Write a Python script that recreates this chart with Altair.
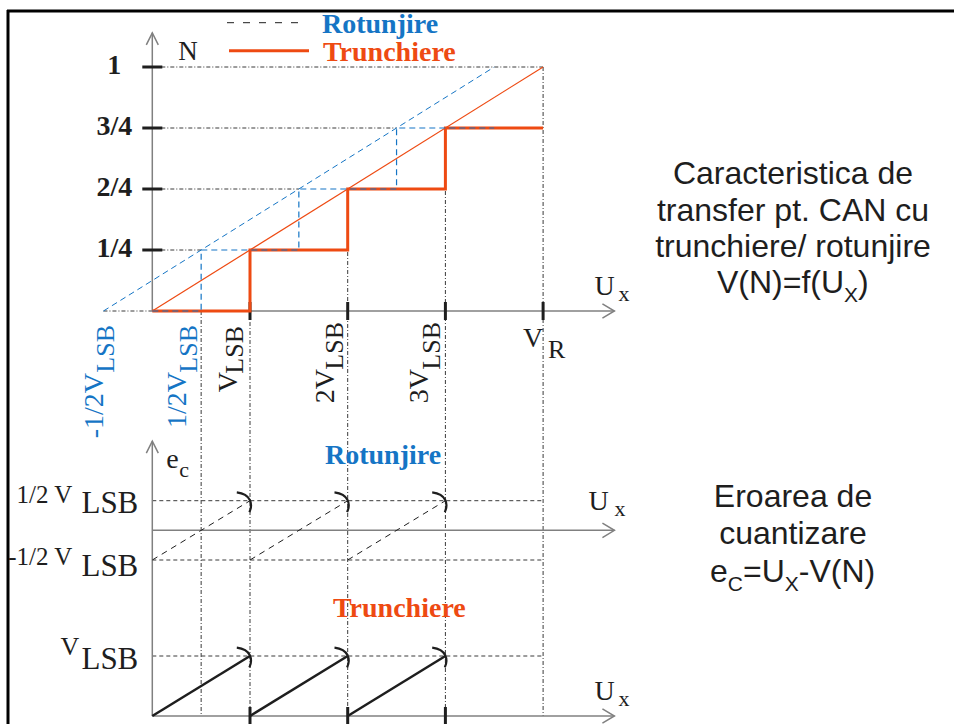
import altair as alt
import pandas as pd

# ------------------------------------------------------------------ data
X_TICKS = [1, 2, 3, 4]                      # V_LSB, 2V_LSB, 3V_LSB, V_R
N_LEVELS = [0.25, 0.5, 0.75, 1.0]
N_LABELS = ["1/4", "2/4", "3/4", "1"]

TR_X = [0, 1, 1, 2, 2, 3, 3, 4]             # truncation staircase
TR_N = [0, 0, 0.25, 0.25, 0.5, 0.5, 0.75, 0.75]
RO_X = [0, 0.5, 0.5, 1.5, 1.5, 2.5, 2.5, 3.5]   # rounding staircase
RO_N = [0, 0, 0.25, 0.25, 0.5, 0.5, 0.75, 0.75]
TR_LINE_X = [0, 4]
TR_LINE_N = [0, 1]
RO_LINE_X = [-0.5, 3.5]
RO_LINE_N = [0, 1]

HG_N = [1.0, 0.75, 0.5, 0.25, 0.0]          # dotted horizontal guides
HG_X1 = [0, 0, 0, 0, -0.5]
HG_X2 = [4, 2.5, 1.5, 0.5, 0]
VG_X = [0.5, 1, 2, 3, 4]                     # dotted vertical guides
VG_N = [0, 0.25, 0.5, 0.75, 1.0]

SAW_X1 = [0, 1, 2]                           # quantisation error teeth
SAW_X2 = [1, 2, 3]
ROT_LEVELS = [0.5, -0.5]
TR_LEVELS = [1]
TR_TICKS = [1, 2, 3]
GUIDE_END = 4

X_AXIS_END = 4.73
N_AXIS_END = 1.14
E_AXIS_END = 4.58

XLAB_MAIN = ["-1/2V", "1/2V", "V", "2V", "3V"]
XLAB_SUB = ["LSB", "LSB", "LSB", "LSB", "LSB"]
XLAB_AT = [-0.5, 0.5, 1, 2, 3]

# ------------------------------------------------------------------ layout / style
W, H = 954, 724
ORANGE = "#ee4a12"
BLUE = "#1575c5"
AXIS = "#808080"
INK = "#1e1e1e"
GUIDE = "#3a3a3a"
SERIF = "Liberation Serif"
SANS = "Liberation Sans"

XS = alt.Scale(domain=[0, 4], range=[152.3, 543.1], zero=False, nice=False)
YN_PX = [311, 67]
YT_PX = [716, 656]
YN = alt.Scale(domain=[0, 1], range=YN_PX, zero=False, nice=False)
YR = alt.Scale(domain=[-0.5, 0.5], range=[560, 500.7], zero=False, nice=False)
YT = alt.Scale(domain=[0, 1], range=YT_PX, zero=False, nice=False)
N_AT_BOTTOM = (YN_PX[0] - YT_PX[0]) / (YN_PX[0] - YN_PX[1])

UP_ARROW = "M-0.5,1L0,0L0.5,1"
RIGHT_ARROW = "M-1,-0.6L0,0L-1,0.6"
ARC = "M-1.1,-0.7C0.1,-0.55 0.25,0.3 -0.05,0.95"

layers = []


def X(f="x"):
    return alt.X(f"{f}:Q", scale=XS, axis=None)


def Y(scale, f="y"):
    return alt.Y(f"{f}:Q", scale=scale, axis=None)


def rules(df, yscale, color, width, dash=None):
    props = dict(color=color, strokeWidth=width)
    if dash:
        props["strokeDash"] = dash
    return alt.Chart(df).mark_rule(**props).encode(
        x=X(), x2="x2:Q", y=Y(yscale), y2="y2:Q")


def label(text, x, y, yscale, dx=0, dy=0, size=26, color=INK, font=SERIF,
          weight="normal", align="left", baseline="alphabetic", angle=0):
    props = dict(font=font, fontSize=size, color=color, align=align,
                 baseline=baseline, xOffset=dx, yOffset=dy, fontWeight=weight)
    if angle:
        props["angle"] = angle
    df = pd.DataFrame({"x": [x], "y": [y], "t": [text]})
    return alt.Chart(df).mark_text(**props).encode(x=X(), y=Y(yscale), text="t:N")


def note(text, px, py, size, color=INK, font=SANS, weight="normal", align="left"):
    df = pd.DataFrame({"t": [text]})
    return alt.Chart(df).mark_text(font=font, fontSize=size, color=color, align=align,
                                   baseline="alphabetic", fontWeight=weight).encode(
        x=alt.value(px), y=alt.value(py), text="t:N")


# ---- dotted guides
layers.append(rules(pd.DataFrame({"x": HG_X1, "x2": HG_X2, "y": HG_N, "y2": HG_N}),
                    YN, GUIDE, 1, [4, 2, 1, 2]))
layers.append(rules(pd.DataFrame({"x": VG_X, "x2": VG_X, "y": VG_N,
                                  "y2": [N_AT_BOTTOM] * len(VG_X)}),
                    YN, GUIDE, 1, [4, 2, 1, 2]))
layers.append(rules(pd.DataFrame({"x": [0] * 2, "x2": [GUIDE_END] * 2,
                                  "y": ROT_LEVELS, "y2": ROT_LEVELS}),
                    YR, GUIDE, 1, [4, 3]))
layers.append(rules(pd.DataFrame({"x": [0], "x2": [GUIDE_END],
                                  "y": TR_LEVELS, "y2": TR_LEVELS}),
                    YT, GUIDE, 1, [4, 3]))

# ---- axes
layers.append(rules(pd.DataFrame({"x": [0, 0], "x2": [0, X_AXIS_END],
                                  "y": [0, 0], "y2": [N_AXIS_END, 0]}), YN, AXIS, 1.5))
layers.append(rules(pd.DataFrame({"x": [0], "x2": [X_AXIS_END], "y": [0], "y2": [0]}),
                    YR, AXIS, 1.5))
layers.append(rules(pd.DataFrame({"x": [0, 0], "x2": [0, X_AXIS_END],
                                  "y": [0, 0], "y2": [E_AXIS_END, 0]}), YT, AXIS, 1.5))


def arrow(x, y, yscale, shape):
    df = pd.DataFrame({"x": [x], "y": [y]})
    return alt.Chart(df).mark_point(shape=shape, size=576, filled=False, color=AXIS,
                                    strokeWidth=1.5, opacity=1).encode(x=X(), y=Y(yscale))


layers.append(arrow(0, N_AXIS_END, YN, UP_ARROW))
layers.append(arrow(0, E_AXIS_END, YT, UP_ARROW))
layers.append(arrow(X_AXIS_END, 0, YN, RIGHT_ARROW))
layers.append(arrow(X_AXIS_END, 0, YR, RIGHT_ARROW))
layers.append(arrow(X_AXIS_END, 0, YT, RIGHT_ARROW))

# ---- ticks
layers.append(alt.Chart(pd.DataFrame({"x": [0] * 4, "y": N_LEVELS})).mark_tick(
    orient="horizontal", size=20, thickness=3, color=INK, opacity=1).encode(x=X(), y=Y(YN)))
layers.append(alt.Chart(pd.DataFrame({"x": X_TICKS, "y": [0] * 4})).mark_tick(
    orient="vertical", size=18, thickness=3, color=INK, opacity=1).encode(x=X(), y=Y(YN)))
layers.append(alt.Chart(pd.DataFrame({"x": TR_TICKS, "y": [0] * 3})).mark_tick(
    orient="vertical", size=18, thickness=3, color=INK, opacity=1).encode(x=X(), y=Y(YT)))

# ---- transfer characteristics
layers.append(rules(pd.DataFrame({"x": [TR_LINE_X[0]], "x2": [TR_LINE_X[1]],
                                  "y": [TR_LINE_N[0]], "y2": [TR_LINE_N[1]]}), YN, ORANGE, 1.2))
layers.append(alt.Chart(pd.DataFrame({"x": TR_X, "y": TR_N, "i": range(len(TR_X))})).mark_line(
    color=ORANGE, strokeWidth=3).encode(x=X(), y=Y(YN), order="i:Q"))
layers.append(rules(pd.DataFrame({"x": [RO_LINE_X[0]], "x2": [RO_LINE_X[1]],
                                  "y": [RO_LINE_N[0]], "y2": [RO_LINE_N[1]]}), YN, BLUE, 1, [6, 4]))
layers.append(alt.Chart(pd.DataFrame({"x": RO_X, "y": RO_N, "i": range(len(RO_X))})).mark_line(
    color=BLUE, strokeWidth=1.2, strokeDash=[6, 4]).encode(x=X(), y=Y(YN), order="i:Q"))

# ---- quantisation error
layers.append(rules(pd.DataFrame({"x": SAW_X1, "x2": SAW_X2,
                                  "y": [ROT_LEVELS[1]] * 3, "y2": [ROT_LEVELS[0]] * 3}),
                    YR, INK, 1, [6, 5]))
layers.append(rules(pd.DataFrame({"x": SAW_X1, "x2": SAW_X2,
                                  "y": [0] * 3, "y2": [TR_LEVELS[0]] * 3}), YT, INK, 2.5))
layers.append(alt.Chart(pd.DataFrame({"x": SAW_X2, "y": [ROT_LEVELS[0]] * 3})).mark_point(
    shape=ARC, size=576, filled=False, color=INK, strokeWidth=2.2, opacity=1).encode(x=X(), y=Y(YR)))
layers.append(alt.Chart(pd.DataFrame({"x": SAW_X2, "y": [TR_LEVELS[0]] * 3})).mark_point(
    shape=ARC, size=576, filled=False, color=INK, strokeWidth=2.2, opacity=1).encode(x=X(), y=Y(YT)))

# ---- top panel labels
layers.append(alt.Chart(pd.DataFrame({"x": [0] * 4, "y": N_LEVELS, "t": N_LABELS})).mark_text(
    font=SERIF, fontSize=28, fontWeight="bold", color=INK, align="center",
    baseline="middle", xOffset=-38, yOffset=-1).encode(x=X(), y=Y(YN), text="t:N"))
layers.append(label("N", 0, N_AXIS_END, YN, dx=26, dy=27, size=27))

XLAB_COLOR = [BLUE, BLUE, INK, INK, INK]
XLAB_MAIN_OFF = [(-0.5, 62), (-15, 61), (-13, 61), (-14, 58), (-17, 58)]
XLAB_SUB_OFF = [(10.5, 14), (-4, 14), (-7, 15), (-4.5, 11), (-5.5, 11)]
for m, s, at, c, mo, so in zip(XLAB_MAIN, XLAB_SUB, XLAB_AT, XLAB_COLOR,
                              XLAB_MAIN_OFF, XLAB_SUB_OFF):
    layers.append(label(m, at, 0, YN, dx=mo[0], dy=mo[1], size=28, color=c,
                        align="right", angle=270))
    layers.append(label(s, at, 0, YN, dx=so[0], dy=so[1], size=26, color=c,
                        align="right", angle=270))

layers.append(label("V", X_TICKS[-1], 0, YN, dx=-20, dy=36, size=28))
layers.append(label("R", X_TICKS[-1], 0, YN, dx=5, dy=47, size=26))

for ysc, uo, xo in [(YN, (-20, -16), (4, -10)), (YR, (-26, -20), (0, -14)),
                    (YT, (-20, -16), (4, -10))]:
    layers.append(label("U", X_AXIS_END, 0, ysc, dx=uo[0], dy=uo[1], size=28))
    layers.append(label("x", X_AXIS_END, 0, ysc, dx=xo[0], dy=xo[1], size=22))

# ---- bottom panel labels
layers.append(label("1/2 V", 0, 0.5, YR, dx=-80, dy=2, size=25, align="right"))
layers.append(label("LSB", 0, 0.5, YR, dx=-14, dy=12, size=31, align="right"))
layers.append(label("-1/2 V", 0, -0.5, YR, dx=-80, dy=5, size=25, align="right"))
layers.append(label("LSB", 0, -0.5, YR, dx=-14, dy=16, size=31, align="right"))
layers.append(label("V", 0, 1, YT, dx=-73, dy=-1, size=26, align="right"))
layers.append(label("LSB", 0, 1, YT, dx=-14, dy=13, size=31, align="right"))
layers.append(label("e", 0, E_AXIS_END, YT, dx=14, dy=27, size=28))
layers.append(label("c", 0, E_AXIS_END, YT, dx=27, dy=36, size=22))

# ---- free annotations: legend, panel titles, captions, frame
layers.append(alt.Chart(pd.DataFrame({"a": [0]})).mark_rule(
    color=INK, strokeWidth=1, strokeDash=[7, 9]).encode(
    x=alt.value(227), x2=alt.value(307), y=alt.value(22.7)))
layers.append(alt.Chart(pd.DataFrame({"a": [0]})).mark_rule(
    color=ORANGE, strokeWidth=3).encode(
    x=alt.value(229), x2=alt.value(309), y=alt.value(50.7)))
layers.append(note("Rotunjire", 322, 33, 28, BLUE, SERIF, "bold"))
layers.append(note("Trunchiere", 323, 61, 28, ORANGE, SERIF, "bold"))
layers.append(note("Rotunjire", 325, 464, 28, BLUE, SERIF, "bold"))
layers.append(note("Trunchiere", 333, 617, 28, ORANGE, SERIF, "bold"))

layers.append(note("Caracteristica de", 793, 184, 32, align="center"))
layers.append(note("transfer pt. CAN cu", 793, 221, 32, align="center"))
layers.append(note("trunchiere/ rotunjire", 793, 257, 32, align="center"))
layers.append(note("V(N)=f(U", 717, 293, 32))
layers.append(note("X", 844, 302, 21))
layers.append(note(")", 858, 293, 32))
layers.append(note("Eroarea de", 793, 507, 32, align="center"))
layers.append(note("cuantizare", 793, 544, 32, align="center"))
layers.append(note("e", 710, 582, 32))
layers.append(note("C", 727.8, 591, 21))
layers.append(note("=U", 743, 582, 32))
layers.append(note("X", 784.8, 591, 21))
layers.append(note("-V(N)", 798.8, 582, 32))

layers.append(alt.Chart(pd.DataFrame({"a": [0]})).mark_rule(
    color="#000000", strokeWidth=3).encode(
    x=alt.value(7), x2=alt.value(W), y=alt.value(11)))
layers.append(alt.Chart(pd.DataFrame({"a": [0]})).mark_rule(
    color="#000000", strokeWidth=3).encode(
    x=alt.value(8), y=alt.value(10), y2=alt.value(H)))

chart = alt.layer(*layers).resolve_scale(y="independent").properties(
    width=W, height=H, padding=0, autosize=alt.AutoSizeParams(type="none"),
    background="white",
).configure_view(stroke="transparent")

chart.save("out.html", embed_options={"renderer": "svg", "actions": False})
